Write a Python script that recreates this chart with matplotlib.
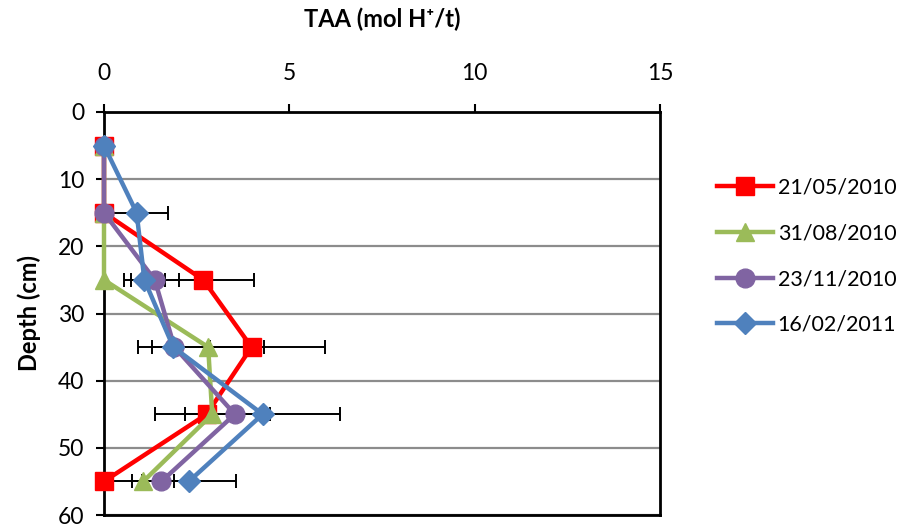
import numpy as np
import matplotlib
matplotlib.use('Agg')
import matplotlib.pyplot as plt

plt.rcParams['font.family'] = ['Lato', 'DejaVu Sans']

# sampling depths (cm) and total actual acidity per sampling date
depth = [5, 15, 25, 35, 45, 55]
dates = ['21/05/2010', '31/08/2010', '23/11/2010', '16/02/2011']

taa_may = [0, 0, 2.68, 3.98, 2.77, 0]
taa_aug = [0, 0, 0, 2.81, 2.92, 1.06]
taa_nov = [0, 0, 1.37, 1.9, 3.53, 1.55]
taa_feb = [0, 0.88, 1.09, 1.87, 4.28, 2.29]

err_may = [0, 0, 1.37, 1.98, 0, 0]
err_aug = [0, 0, 0, 1.51, 1.55, 0.83]
err_nov = [0, 0, 0.65, 0.97, 0, 0.8]
err_feb = [0, 0.84, 0.56, 0, 2.1, 1.27]

series = [taa_may, taa_aug, taa_nov, taa_feb]
errors = [err_may, err_aug, err_nov, err_feb]
colors = ['#FF0000', '#9BBB59', '#8064A2', '#4F81BD']
markers = ['s', '^', 'o', 'D']
msizes = [12.5, 13, 13.5, 11]

fig = plt.figure(figsize=(9.08, 5.28), dpi=100)
ax = fig.add_axes([104/908, 1 - 515/528, (660 - 104)/908, (515 - 112)/528])

for vals, err in zip(series, errors):
    vals = np.array(vals)
    err = np.array(err)
    keep = err > 0
    ax.errorbar(vals[keep], np.array(depth)[keep], xerr=err[keep], fmt='none',
                ecolor='black', elinewidth=1.4, capsize=5, capthick=1.4, zorder=2)

for vals, name, c, m, ms in zip(series, dates, colors, markers, msizes):
    ax.plot(vals, depth, color=c, lw=3.2, marker=m, ms=ms, mec=c, mfc=c,
            label=name, zorder=3, clip_on=False)

ax.set_xlim(0, 15)
ax.set_ylim(60, 0)
ax.set_xticks([0, 5, 10, 15])
ax.set_yticks(range(0, 61, 10))
ax.xaxis.tick_top()
ax.xaxis.set_label_position('top')
ax.tick_params(axis='both', labelsize=16.5, width=1.5, length=6, direction='out', pad=8)
ax.tick_params(axis='x', pad=14)

ax.yaxis.grid(True, color='#8C8C8C', lw=1.6)
ax.set_axisbelow(True)
for side in ['top', 'bottom', 'left', 'right']:
    ax.spines[side].set_linewidth(2)
    ax.spines[side].set_color('black')

ax.set_xlabel('TAA (mol H\u207a/t)', fontsize=17, fontweight='bold', labelpad=26)
ax.set_ylabel('Depth (cm)', fontsize=17, fontweight='bold', labelpad=12)

ax.legend(loc='upper left', bbox_to_anchor=(698/908, 1 - 158/528),
          bbox_transform=fig.transFigure, frameon=False, fontsize=15.5,
          handlelength=2.6, labelspacing=1.2, handletextpad=0.2)

fig.savefig('out.png', dpi=100)
